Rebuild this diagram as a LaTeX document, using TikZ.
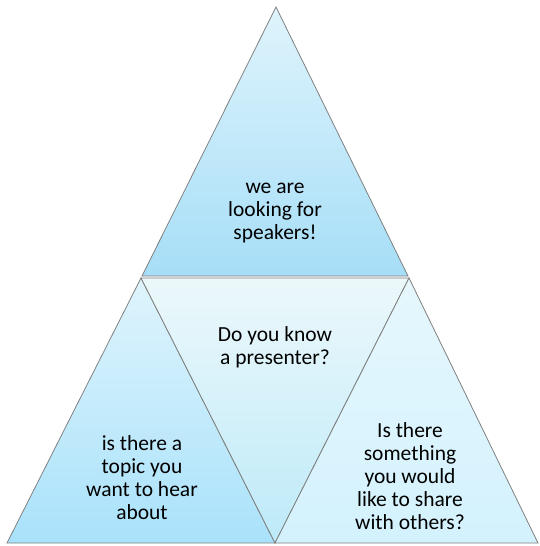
\documentclass[tikz,border=0pt]{standalone}
\usepackage{fontspec}
\setmainfont{Carlito}
\usepackage{tikz}

\definecolor{skytop}{HTML}{DFF4FC}
\definecolor{skybot}{HTML}{A6DEF7}
\definecolor{leftbot}{HTML}{A9E2FB}
\definecolor{midtop}{HTML}{ECF8FA}
\definecolor{midbot}{HTML}{BDEAF9}
\definecolor{rtop}{HTML}{E6F7FD}
\definecolor{rbot}{HTML}{D3F2FD}

\begin{document}
\begin{tikzpicture}[x=1pt, y=-1pt, every node/.style={align=center, inner sep=0pt, font=\fontsize{21.5}{23}\selectfont, text=black}, tri/.style={draw=black!50, line width=0.8pt}]
    \useasboundingbox (0,0) rectangle (539,546);

    % corners of the pieces
    \coordinate (A) at (276,7);
    \coordinate (L1) at (142,276);
    \coordinate (R1) at (408,276);
    \coordinate (L2) at (141,278);
    \coordinate (R2) at (409,278);
    \coordinate (BL) at (7,543);
    \coordinate (BM) at (275,543);
    \coordinate (BR) at (538,543);

    % four triangles
    \shade[tri, top color=skytop, bottom color=skybot] (A) -- (L1) -- (R1) -- cycle;
    \shade[tri, top color=skytop, bottom color=leftbot] (L2) -- (BL) -- (BM) -- cycle;
    \shade[tri, top color=midtop, bottom color=midbot] (L2) -- (R2) -- (BM) -- cycle;
    \shade[tri, top color=rtop, bottom color=rbot] (R2) -- (BM) -- (BR) -- cycle;

    % texts
    \node (top) at (275,213) {we are\\looking for\\speakers!};
    \node (mid) at (275,347) {Do you know\\a presenter?};
    \node (left) at (142,478) {is there a\\topic you\\want to hear\\about};
    \node (right) at (410,476) {Is there\\something\\you would\\like to share\\with others?};
\end{tikzpicture}
\end{document}
